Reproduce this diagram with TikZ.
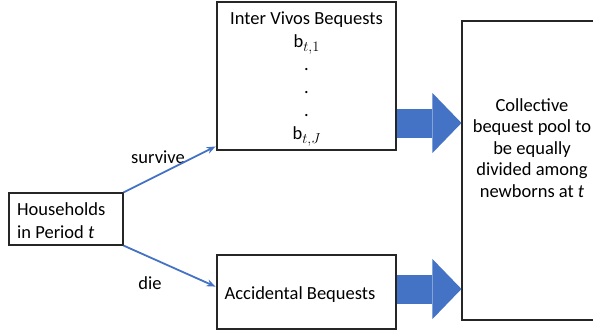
\documentclass[tikz,border=0pt]{standalone}
\usepackage{fontspec}
\setmainfont{Carlito}
\usetikzlibrary{arrows.meta}
\definecolor{offblue}{HTML}{4472C4}
\tikzset{
  box/.style={draw=black!85,line width=1.1pt,fill=white,inner sep=0pt},
  flow/.style={draw=offblue,line width=1.8pt,shorten >=1pt,-{Stealth[length=9pt,width=7pt]}},
  bigarrow/.style={draw=offblue,line width=29pt,-{Triangle[length=29pt,width=60pt,line width=0pt]}},
  txt/.style={inner sep=0pt,font=\fontsize{18.5}{23}\selectfont}
}
\newcommand{\bsub}[2]{#1\raisebox{-4pt}{\fontsize{14}{14}\selectfont$#2$}}
\begin{document}
\begin{tikzpicture}[x=1pt,y=1pt]
\useasboundingbox (0,0) rectangle (593,-335);
\clip (0,0) rectangle (593,-335);
\node[box,minimum width=114pt,minimum height=52pt] (hh) at (66,-219) {};
\node[box,minimum width=179pt,minimum height=148pt] (ivb) at (306.5,-76) {};
\node[box,minimum width=179pt,minimum height=74pt] (acc) at (306.5,-292) {};
\node[box,minimum width=140pt,minimum height=299pt] (pool) at (532,-170.5) {};
\node[txt,align=left,anchor=west] (hhtxt) at (17,-221) {Households\\in Period \textit{t}};
\node[txt,align=center] (ivbtxt) at (306.5,-79) {Inter Vivos Bequests\\\bsub{b}{t{,}1}\\.\\.\\.\\\bsub{$\mathrm{b}$}{t{,}J}};
\node[txt] (acctxt) at (300,-295) {Accidental Bequests};
\node[txt,align=center,font=\fontsize{18.5}{21.5}\selectfont] (pooltxt) at (532,-148) {Collective\\bequest pool to\\be equally\\divided among\\newborns at \textit{t}};
\node[txt] (surv) at (158,-157) {survive};
\node[txt] (dielbl) at (150,-283) {die};
\coordinate (up) at (0,-146);
\coordinate (dn) at (0,-287);
\draw[flow] (hh.north east) -- (ivb.west |- up);
\draw[flow] (hh.south east) -- (acc.west |- dn);
\coordinate (ua) at (0,-123);
\coordinate (la) at (0,-289);
\draw[bigarrow] (ivb.east |- ua) -- (pool.west |- ua);
\draw[bigarrow] (acc.east |- la) -- (pool.west |- la);
\end{tikzpicture}
\end{document}
